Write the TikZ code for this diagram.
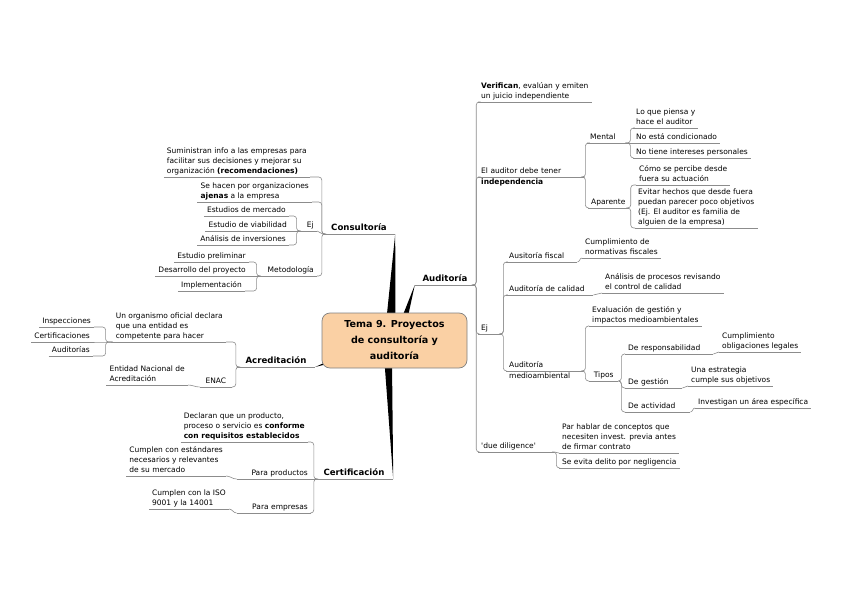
\documentclass[tikz,border=0pt]{standalone}
\usepackage{fontspec}
\setmainfont{DejaVu Sans}
\usetikzlibrary{calc,backgrounds}
\definecolor{peach}{RGB}{250,208,164}
\definecolor{linegray}{RGB}{140,140,140}
\newcommand\conR[3][2]{\draw[connline] (#2.south east) -- ++(#1,0) |- (#3.south west);}
\newcommand\conL[3][2]{\draw[connline] (#2.south west) -- ++(-#1,0) |- (#3.south east);}
\newcommand\conRs[2]{\draw[connline] (#1.south east) to[out=0,in=180] (#2.south west);}
\newcommand\conLs[2]{\draw[connline] (#1.south west) to[out=180,in=0] (#2.south east);}
\begin{document}
\begin{tikzpicture}[x=1pt,y=-1pt,
  connline/.style={draw=linegray, line width=0.6pt, rounded corners=3pt},
  ulinestyle/.style={draw=linegray, line width=0.6pt},
  topic/.style={inner xsep=3pt, inner ysep=1pt, text depth=1.9pt, align=left,
    font=\fontsize{7.5}{10.1}\selectfont},
  maintopic/.style={inner xsep=3pt, inner ysep=1.2pt, text depth=2pt,
    font=\bfseries\fontsize{8.6}{10}\selectfont},
  centralnode/.style={draw=black!50, line width=0.7pt, fill=peach, rounded corners=8pt,
    minimum width=145pt, minimum height=55pt, align=center, inner sep=2pt,
    font=\bfseries\fontsize{9.6}{16}\selectfont},
  wedgefill/.style={fill=black}]

% central topic
\node[centralnode] (ctr) at (394.5,340.5) {Tema 9. Proyectos\\de consultoría y\\auditoría};

% main topics
\node[maintopic, anchor=south, minimum width=72pt] (cons) at (359,234) {Consultoría};
\node[maintopic, anchor=south, minimum width=60pt] (audt) at (445,285) {Auditoría};
\node[maintopic, anchor=south, minimum width=78pt] (acre) at (276,367) {Acreditación};
\node[maintopic, anchor=south, minimum width=78pt] (cerf) at (354,479) {Certificación};

% Consultoria
\node[topic, anchor=south east] (sumi) at (310,177) {Suministran info a las empresas para\\facilitar sus decisiones y mejorar su\\organización \textbf{(recomendaciones)}};
\node[topic, anchor=south east] (seha) at (312,202) {Se hacen por organizaciones\\\textbf{ajenas} a la empresa};
\node[topic, anchor=south east, text width=13pt, align=right] (ej1) at (317,231) {Ej};
\node[topic, anchor=south east, text width=53pt, align=right] (meto) at (317,276) {Metodología};
\node[topic, anchor=south east] (estm) at (289,216) {Estudios de mercado};
\node[topic, anchor=south east] (estv) at (290,231) {Estudio de viabilidad};
\node[topic, anchor=south east] (anal) at (289,245) {Análisis de inversiones};
\node[topic, anchor=south east] (estp) at (249,262) {Estudio preliminar};
\node[topic, anchor=south east] (desa) at (249,276) {Desarrollo del proyecto};
\node[topic, anchor=south east] (impl) at (245,291) {Implementación};

% Acreditacion
\node[topic, anchor=south east] (orga) at (226,342) {Un organismo oficial declara\\que una entidad es\\competente para hacer};
\node[topic, anchor=south east, minimum width=32pt] (enac) at (232,387) {ENAC};
\node[topic, anchor=south east] (enti) at (188,385) {Entidad Nacional de\\Acreditación};
\node[topic, anchor=south east] (insp) at (94,327) {Inspecciones};
\node[topic, anchor=south east] (cert1) at (93,342) {Certificaciones};
\node[topic, anchor=south east] (audi) at (93,356) {Auditorías};

% Certificacion
\node[topic, anchor=south east] (decl) at (308,442) {Declaran que un producto,\\proceso o servicio es \textbf{conforme}\\\textbf{con requisitos establecidos}};
\node[topic, anchor=south east, text width=68pt, align=right] (prod) at (311,479) {Para productos};
\node[topic, anchor=south east, text width=68pt, align=right] (empr) at (311,513) {Para empresas};
\node[topic, anchor=south east] (cum1) at (226,476) {Cumplen con estándares\\necesarios y relevantes\\de su mercado};
\node[topic, anchor=south east] (cum2) at (229,509) {Cumplen con la ISO\\9001 y la 14001};

% Auditoria
\node[topic, anchor=south west] (verif) at (478,102) {\textbf{Verifican}, evalúan y emiten\\un juicio independiente};
\node[topic, anchor=south west, text width=100pt] (indep) at (478,177) {El auditor debe tener\\\textbf{independencia}};
\node[topic, anchor=south west, text width=17pt] (ej2) at (478,334) {Ej};
\node[topic, anchor=south west, text width=70pt] (dued) at (478,452) {\textquotesingle due diligence\textquotesingle};

\node[topic, anchor=south west, text width=32pt] (mental) at (587,143) {Mental};
\node[topic, anchor=south west] (apar) at (588,208) {Aparente};
\node[topic, anchor=south west] (lqp) at (633,128) {Lo que piensa y\\hace el auditor};
\node[topic, anchor=south west] (nec) at (633,143) {No está condicionado};
\node[topic, anchor=south west] (nti) at (633,158) {No tiene intereses personales};
\node[topic, anchor=south west] (como) at (636,185) {Cómo se percibe desde\\fuera su actuación};
\node[topic, anchor=south west] (evit) at (635,228) {Evitar hechos que desde fuera\\puedan parecer poco objetivos\\(Ej. El auditor es familia de\\alguien de la empresa)};

\node[topic, anchor=south west, text width=65pt] (fisc) at (506,262) {Ausitoría fiscal};
\node[topic, anchor=south west, text width=81pt] (calid) at (506,295) {Auditoría de calidad};
\node[topic, anchor=south west, text width=71pt] (medio) at (506,371) {Auditoría\\medioambiental};
\node[topic, anchor=south west] (cumf) at (582,258) {Cumplimiento de\\normativas fiscales};
\node[topic, anchor=south west] (anpr) at (602,293) {Análisis de procesos revisando\\el control de calidad};
\node[topic, anchor=south west] (eval) at (589,326) {Evaluación de gestión y\\impactos medioambientales};
\node[topic, anchor=south west, minimum width=29pt] (tipos) at (589,381) {Tipos};
\node[topic, anchor=south west, text width=82pt] (resp) at (625,354) {De responsabilidad};
\node[topic, anchor=south west, text width=51pt] (gest) at (625,388) {De gestión};
\node[topic, anchor=south west, text width=59pt] (acti) at (625,412) {De actividad};
\node[topic, anchor=south west] (cumo) at (719,352) {Cumplimiento\\obligaciones legales};
\node[topic, anchor=south west] (unae) at (688,386) {Una estrategia\\cumple sus objetivos};
\node[topic, anchor=south west] (inve) at (695,408) {Investigan un área específica};
\node[topic, anchor=south west] (parh) at (559,453) {Par hablar de conceptos que\\necesiten invest. previa antes\\de firmar contrato};
\node[topic, anchor=south west] (sev) at (559,468) {Se evita delito por negligencia};

% underlines
\foreach \n in {cons,audt,acre,cerf,sumi,seha,ej1,meto,estm,estv,anal,estp,desa,impl,
  orga,enac,enti,insp,cert1,audi,decl,prod,empr,cum1,cum2,verif,indep,ej2,dued,
  mental,apar,lqp,nec,nti,como,evit,fisc,calid,medio,cumf,anpr,eval,tipos,resp,gest,acti,
  cumo,unae,inve,parh,sev}
  \draw[ulinestyle] (\n.south west) -- (\n.south east);

% connectors, left side
\conL[1]{cons}{sumi} \conL[1]{cons}{seha} \conLs{cons}{ej1} \conL[1]{cons}{meto}
\conL[1]{ej1}{estm} \conLs{ej1}{estv} \conL[1]{ej1}{anal}
\conL[1]{meto}{estp} \conLs{meto}{desa} \conL[1]{meto}{impl}
\conL[1]{acre}{orga} \conL[1]{acre}{enac}
\conL[7]{orga}{insp} \conLs{orga}{cert1} \conL[7]{orga}{audi}
\conLs{enac}{enti}
\conL[1]{cerf}{decl} \conLs{cerf}{prod} \conL[1]{cerf}{empr}
\conLs{prod}{cum1} \conLs{empr}{cum2}

% connectors, right side
\conR[1]{audt}{verif} \conR[1]{audt}{indep} \conR[1]{audt}{ej2} \conR[1]{audt}{dued}
\conR[1]{indep}{mental} \conR[1]{indep}{apar}
\conR[5]{mental}{lqp} \conRs{mental}{nec} \conR[5]{mental}{nti}
\conR[2]{apar}{como} \conR[2]{apar}{evit}
\conR[2]{ej2}{fisc} \conR[2]{ej2}{calid} \conR[2]{ej2}{medio}
\conRs{fisc}{cumf} \conRs{calid}{anpr}
\conR[2]{medio}{eval} \conR[2]{medio}{tipos}
\conR[3]{tipos}{resp} \conR[3]{tipos}{gest} \conR[3]{tipos}{acti}
\conRs{resp}{cumo} \conRs{gest}{unae} \conRs{acti}{inve}
\conRs{dued}{parh} \conR[2]{dued}{sev}

% background and main branches
\begin{pgfonlayer}{background}
\fill[white] (0,0) rectangle (848,599);
\fill[wedgefill] (cons.south east) -- ($(ctr.north)+(1,6)$) -- ($(ctr.north)+(-8,6)$) -- cycle;
\fill[wedgefill] (audt.south west) -- ($(ctr.north)+(13,6)$) -- ($(ctr.north)+(7,6)$) -- cycle;
\fill[wedgefill] (acre.south east) -- ($(ctr.south west)+(8,-5)$) -- ($(ctr.south west)+(8,-8)$) -- cycle;
\fill[wedgefill] (cerf.south east) -- ($(ctr.south)+(-2.5,-6)$) -- ($(ctr.south)+(-10,-6)$) -- cycle;
\end{pgfonlayer}
\useasboundingbox (0,0) rectangle (848,599);
\end{tikzpicture}
\end{document}
